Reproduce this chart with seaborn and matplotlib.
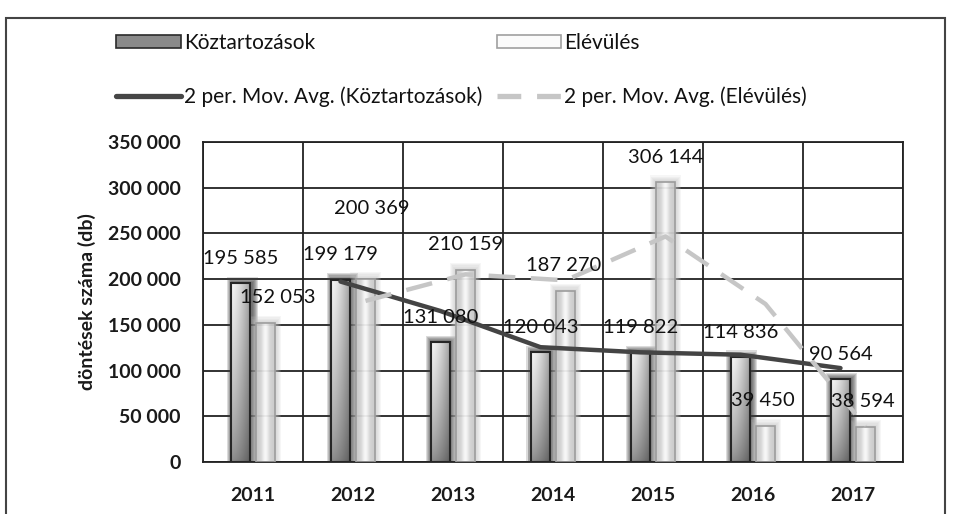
import numpy as np
import pandas as pd
import matplotlib
matplotlib.use("Agg")
import matplotlib.pyplot as plt
from matplotlib.patches import Rectangle, Patch
from matplotlib.lines import Line2D
import seaborn as sns

# data
years = ["2011", "2012", "2013", "2014", "2015", "2016", "2017"]
koztartozasok = [195585, 199179, 131080, 120043, 119822, 114836, 90564]
elevules = [152053, 200369, 210159, 187270, 306144, 39450, 38594]
series_names = ["Köztartozások", "Elévülés"]
ma_names = ["2 per. Mov. Avg. (Köztartozások)", "2 per. Mov. Avg. (Elévülés)"]
y_ticks = [0, 50000, 100000, 150000, 200000, 250000, 300000, 350000]
y_label = "döntések száma (db)"

# label nudges in pixels (Excel put a couple of them off)
koz_nudge = [(0, 25)] * 7
elev_nudge = [(12, 25), (6, 70), (0, 25), (-2, 25), (0, 25), (-3, 25), (-3, 25)]

sns.set_theme(style="white")
plt.rcParams["font.family"] = ["Lato", "DejaVu Sans"]

df = pd.DataFrame({
    "year": years * 2,
    "series": [series_names[0]] * 7 + [series_names[1]] * 7,
    "value": koztartozasok + elevules,
})

fig = plt.figure(figsize=(9.56, 5.14), dpi=100)
ax = fig.add_axes([203 / 956, 52 / 514, 700 / 956, 320 / 514])

sns.barplot(data=df, x="year", y="value", hue="series", hue_order=series_names,
            palette=["#777777", "#eeeeee"], width=0.5, dodge=True, legend=False,
            errorbar=None, ax=ax)
bars = list(ax.patches)

px_x = 7 / 700          # one pixel in x data units
px_y = 350000 / 320     # one pixel in y data units
bar_w = 19 * px_x

u = np.linspace(0, 1, 40)
v = np.linspace(0, 1, 80)[:, None]
# koz: light at the top, darker toward the bottom and the right edge
koz_grad = (0.5 + 0.42 * v ** 0.7) * (1.0 - 0.35 * u ** 1.5)[None, :] + 0.04
koz_grad = np.clip(koz_grad, 0, 1)
elev_grad = np.tile(0.8 + 0.19 * np.exp(-((u - 0.5) / 0.2) ** 2), (2, 1))

for i, p in enumerate(bars):
    is_koz = i < 7
    cx = p.get_x() + p.get_width() / 2
    h = p.get_height()
    p.set_x(cx - bar_w / 2)
    p.set_width(bar_w)
    p.set_facecolor("none")
    p.set_zorder(3)
    x0 = cx - bar_w / 2
    # soft glow around the bar
    glow = "#404040" if is_koz else "#c0c0c0"
    shift = 1.5 * px_x if is_koz else 0
    a = 0.19 if is_koz else 0.14
    for k in range(1, 7):
        ax.add_patch(Rectangle((x0 + shift - k * px_x, 0), bar_w + 2 * k * px_x,
                               h + k * px_y * 1.1,
                               facecolor=glow, edgecolor="none", alpha=a, zorder=1.5))
    img = ax.imshow(koz_grad if is_koz else elev_grad, cmap="gray", vmin=0, vmax=1,
                    extent=[x0, x0 + bar_w, 0, h], aspect="auto", origin="lower",
                    interpolation="bilinear", zorder=2.5, alpha=1.0 if is_koz else 0.85)
    img.set_clip_path(p)
    if is_koz:
        p.set_edgecolor("#262626")
        p.set_linewidth(1.5)
    else:
        p.set_edgecolor("#9c9c9c")
        p.set_linewidth(1.2)

# 2 period moving averages, drawn on each series' bar centres
koz_x = [b.get_x() + bar_w / 2 for b in bars[:7]]
elev_x = [b.get_x() + bar_w / 2 for b in bars[7:]]
koz_ma = pd.Series(koztartozasok).rolling(2).mean()
elev_ma = pd.Series(elevules).rolling(2).mean()
sns.lineplot(x=koz_x[1:], y=koz_ma[1:].values, color="#444444", lw=3.2, ax=ax, zorder=5)
sns.lineplot(x=elev_x[1:], y=elev_ma[1:].values, color="#c6c6c6", lw=3.2,
             linestyle=(0, (6, 3.5)), ax=ax, zorder=5)

def fmt(val):
    return f"{val:,.0f}".replace(",", " ")

for xs, vals, nudges in [(koz_x, koztartozasok, koz_nudge), (elev_x, elevules, elev_nudge)]:
    for x, val, (dx, dy) in zip(xs, vals, nudges):
        ax.annotate(fmt(val), (x, val), xytext=(dx, dy), textcoords="offset pixels",
                    ha="center", va="center", fontsize=14.5, color="#111111", zorder=6)

ax.set_xlim(-0.5, 6.5)
ax.set_ylim(0, 350000)
ax.set_yticks(y_ticks)
ax.set_yticklabels([fmt(t) for t in y_ticks], fontsize=14, fontweight="bold", color="#1a1a1a")
ax.set_xticks(range(7))
ax.set_xticklabels(years, fontsize=14, fontweight="bold", color="#1a1a1a")
ax.set_xticks(np.arange(-0.5, 7, 1), minor=True)
ax.tick_params(axis="y", length=0, pad=16)
ax.tick_params(axis="x", which="both", length=0, pad=18)
ax.grid(False)
ax.grid(axis="y", which="major", color="#222222", lw=1.3)
ax.grid(axis="x", which="minor", color="#222222", lw=1.3)
ax.set_axisbelow(True)
for s in ax.spines.values():
    s.set_color("#222222")
    s.set_linewidth(1.3)

ax.set_xlabel("")
ax.set_ylabel(y_label, fontsize=14, fontweight="bold", color="#1a1a1a")
ax.yaxis.set_label_coords(-0.166, 0.5)
ax.yaxis.label.set_va("center")

# legend on top, two columns
handles = [
    Patch(facecolor="#8a8a8a", edgecolor="#2a2a2a", lw=1.2),
    Line2D([], [], color="#464646", lw=3.8),
    Patch(facecolor="#fbfbfb", edgecolor="#a0a0a0", lw=1.2),
    Line2D([], [], color="#c6c6c6", lw=3.8, linestyle=(0, (4.5, 3))),
]
labels = [series_names[0], ma_names[0], series_names[1], ma_names[1]]
fig.legend(handles, labels, loc="upper left", bbox_to_anchor=(116 / 956, 1 - 33 / 514),
           ncol=2, frameon=False, fontsize=15, handlelength=3.1, handleheight=0.6,
           handletextpad=0.15, columnspacing=0.7, labelspacing=1.6,
           borderpad=0, borderaxespad=0, labelcolor="#111111")

# outer chart frame
fig.add_artist(Rectangle((6 / 956, -0.02), 939 / 956, 1.02 - 18 / 514, transform=fig.transFigure,
                         fill=False, edgecolor="#444444", lw=1.5))

fig.savefig("out.png", dpi=100)
